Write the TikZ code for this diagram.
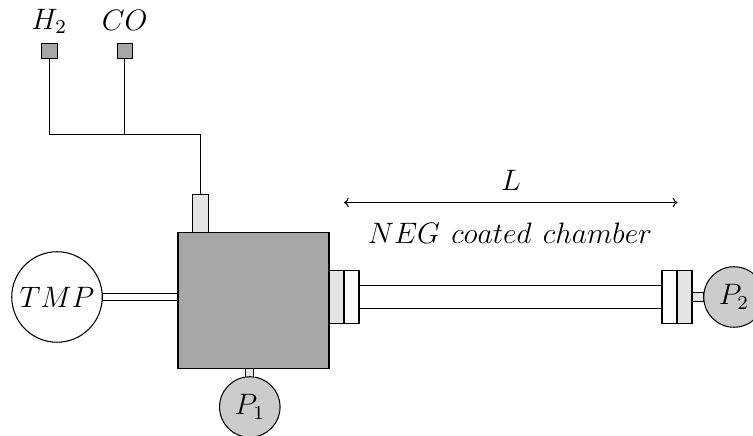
\documentclass[tikz,border=0pt]{standalone}
\usetikzlibrary{arrows.meta}
\newcommand{\pxu}{0.01328cm}
\newcommand{\mlab}[1]{\scalebox{0.93}{\large$#1$}}
\tikzset{
  part/.style n args={3}{draw, rectangle, inner sep=0pt, outer sep=0pt, fill=#1,
    minimum width=#2*\pxu, minimum height=#3*\pxu},
  pump/.style n args={2}{draw, circle, inner sep=0pt, outer sep=0pt, fill=#1,
    minimum size=#2*\pxu},
  wire/.style={draw, line width=0.4pt},
  lab/.style={inner sep=0pt}
}
\definecolor{chamber}{gray}{0.65}
\definecolor{flange}{gray}{0.9}
\definecolor{gauge}{gray}{0.8}
\begin{document}
\begin{tikzpicture}[x=\pxu, y=-\pxu]
\useasboundingbox (0,0) rectangle (753,436);
% gas inlets
\node[part={chamber}{15.5}{15.5}] (h2box) at (49.3,51.2) {};
\node[part={chamber}{15.5}{15.5}] (cobox) at (124.8,51.2) {};
\node[lab] (h2lab) at (49.3,21.5) {\mlab{H_2}};
\node[lab] (colab) at (124.8,20.5) {\mlab{CO}};
% top port, chamber
\node[part={flange}{16}{38}] (port) at (200.5,213.7) {};
\node[part={chamber}{151}{136}] (main) at (253.5,300.7) {};
% TMP
\node[part={white}{76}{7.5}] (tube) at (140,297) {};
\node[pump={white}{90.5}] (tmp) at (57,297) {\mlab{TMP}};
% P1
\node[part={flange}{8}{9}] (p1stub) at (249.5,373) {};
\node[pump={gauge}{60.5}] (p1) at (249.8,407) {\mlab{P_1}};
% NEG chamber
\node[part={flange}{15}{53}] (fl1) at (336.5,297) {};
\node[part={white}{15}{53}] (fl2) at (351.5,297) {};
\node[part={white}{303}{22.5}] (neg) at (510.5,297) {};
\node[part={white}{15}{53}] (fl3) at (669.5,297) {};
\node[part={flange}{15}{53}] (fl4) at (684.5,297) {};
\node[part={flange}{12}{8.5}] (p2stub) at (698,297) {};
\node[pump={gauge}{60.5}] (p2) at (734,297) {\mlab{P_2}};
% gas lines
\coordinate (jh) at (49.3,134.5);
\coordinate (jc) at (124.8,134.5);
\coordinate (jp) at (200.5,134.5);
\draw[wire] (h2box.south) -- (jh) -- (jp) -- (port.north);
\draw[wire] (cobox.south) -- (jc);
% dimension
\coordinate (la) at (344,202.5);
\coordinate (lb) at (677.5,202.5);
\draw[wire, {Computer Modern Rightarrow[length=1.8pt,width=3.6pt]}-{Computer Modern Rightarrow[length=1.8pt,width=3.6pt]}] (la) -- (lb);
\node[lab] (l) at (511,180.5) {\mlab{L}};
\node[lab] (negl) at (510,233) {\mlab{NEG\hspace{4.6pt}coated\hspace{4.6pt}chamber}};
\end{tikzpicture}
\end{document}
